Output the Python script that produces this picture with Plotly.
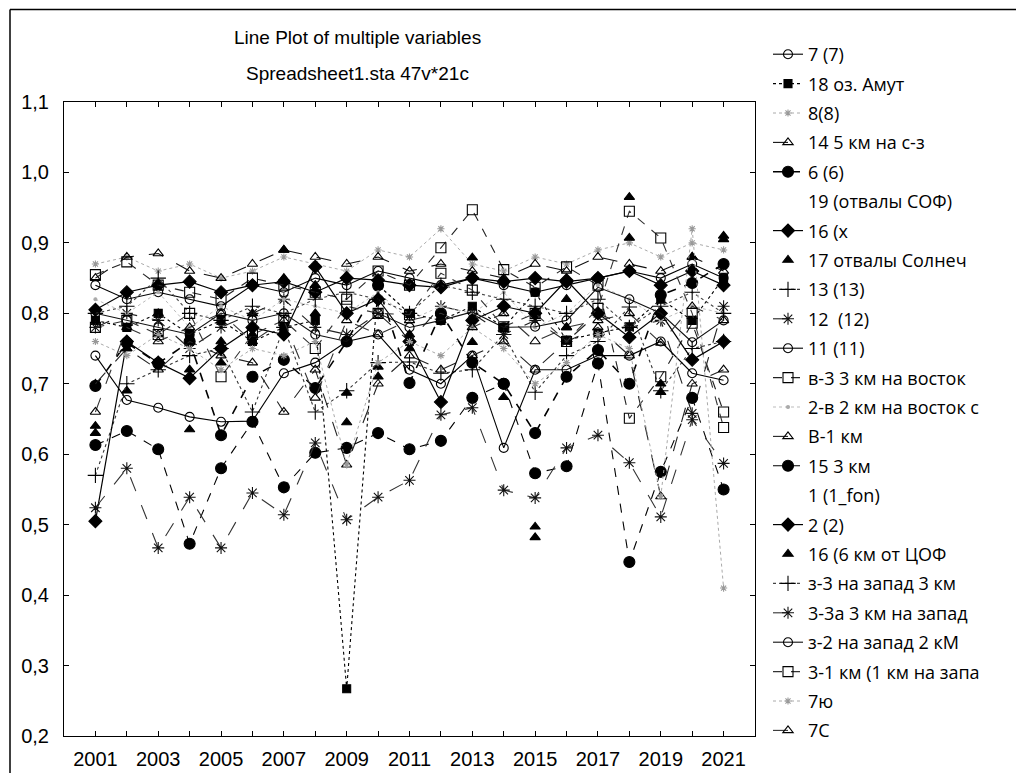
import plotly.graph_objects as go

# ---- data -------------------------------------------------------------
years = list(range(2001, 2022))

y_tick_vals = [0.2, 0.3, 0.4, 0.5, 0.6, 0.7, 0.8, 0.9, 1.0, 1.1]
x_tick_text = [str(y) if (y - 2001) % 2 == 0 else "" for y in years]

s_7 = [0.840, 0.820, 0.830, 0.820, 0.810, 0.840, 0.830, 0.850, 0.840, 0.860, 0.850,
       0.840, 0.850, 0.840, 0.830, 0.840, 0.850, 0.860, 0.850, 0.870, 0.850]
s_18 = [0.790, 0.780, 0.800, 0.770, 0.790, 0.760, 0.780, 0.790, 0.267, 0.840, 0.800,
        0.790, 0.810, 0.780, 0.830, 0.762, 0.772, 0.781, 0.820, 0.790, 0.850]
s_8 = [0.870, 0.880, 0.860, 0.870, 0.850, 0.860, 0.880, 0.870, 0.860, 0.890, 0.880,
       0.920, 0.870, 0.860, 0.880, 0.870, 0.890, 0.900, 0.880, 0.900, 0.890]
s_14 = [0.850, 0.880, 0.885, 0.860, 0.850, 0.870, 0.890, 0.880, 0.870, 0.880, 0.860,
        0.870, 0.860, 0.850, 0.870, 0.860, 0.880, 0.870, 0.860, 0.880, 0.860]
s_6 = [0.697, 0.758, 0.729, 0.760, 0.627, 0.710, 0.734, 0.694, 0.760, 0.840, 0.701,
       0.800, 0.730, 0.700, 0.630, 0.710, 0.748, 0.700, 0.826, 0.843, 0.870]
s_19 = [0.810, 0.800, 0.820, 0.800, 0.790, 0.810, 0.820, 0.800, 0.810, 0.830, 0.810,
        0.820, 0.830, 0.810, 0.820, 0.810, 0.830, 0.840, 0.820, 0.840, 0.830]
s_16x = [0.805, 0.830, 0.840, 0.845, 0.830, 0.840, 0.845, 0.830, 0.850, 0.847, 0.840,
         0.837, 0.850, 0.845, 0.850, 0.845, 0.850, 0.860, 0.840, 0.860, 0.840]
s_17 = [0.640, 0.690, 0.800, 0.635, 0.730, 0.800, 0.890, 0.800, 0.645, 0.724, 0.770,
        0.790, 0.879, 0.681, 0.497, 0.820, 0.850, 0.965, 0.688, 0.880, 0.910]
s_13 = [0.570, 0.700, 0.720, 0.740, 0.750, 0.660, 0.780, 0.660, 0.690, 0.730, 0.731,
        0.715, 0.720, 0.770, 0.688, 0.740, 0.760, 0.809, 0.690, 0.750, 0.760]
s_12 = [0.780, 0.800, 0.790, 0.750, 0.780, 0.800, 0.820, 0.780, 0.770, 0.800, 0.760,
        0.810, 0.800, 0.770, 0.790, 0.760, 0.800, 0.780, 0.790, 0.658, 0.810]
s_11 = [0.740, 0.677, 0.666, 0.653, 0.646, 0.647, 0.715, 0.730, 0.760, 0.770, 0.720,
        0.700, 0.740, 0.609, 0.720, 0.720, 0.740, 0.740, 0.760, 0.715, 0.705]
s_v3 = [0.855, 0.873, 0.840, 0.830, 0.820, 0.850, 0.840, 0.830, 0.820, 0.860, 0.840,
        0.893, 0.947, 0.862, 0.837, 0.866, 0.840, 0.651, 0.710, 0.786, 0.660]
s_2v = [0.820, 0.800, 0.830, 0.780, 0.810, 0.790, 0.820, 0.810, 0.800, 0.830, 0.790,
        0.810, 0.800, 0.830, 0.780, 0.800, 0.840, 0.820, 0.790, 0.810, 0.800]
s_V1 = [0.700, 0.750, 0.720, 0.760, 0.740, 0.730, 0.660, 0.720, 0.585, 0.700, 0.740,
        0.720, 0.740, 0.760, 0.720, 0.760, 0.780, 0.740, 0.540, 0.700, 0.720]
s_15 = [0.613, 0.633, 0.607, 0.473, 0.580, 0.646, 0.553, 0.602, 0.609, 0.630, 0.607,
        0.619, 0.680, 0.700, 0.573, 0.583, 0.729, 0.447, 0.575, 0.680, 0.550]
s_1fon = [0.780, 0.790, 0.800, 0.790, 0.780, 0.800, 0.810, 0.790, 0.800, 0.810, 0.790,
          0.800, 0.810, 0.800, 0.790, 0.800, 0.810, 0.820, 0.800, 0.810, 0.800]
s_2 = [0.505, 0.760, 0.730, 0.708, 0.750, 0.780, 0.770, 0.866, 0.800, 0.820, 0.760,
       0.674, 0.790, 0.810, 0.800, 0.847, 0.800, 0.766, 0.800, 0.734, 0.760]
s_16c = [0.630, 0.750, 0.770, 0.720, 0.760, 0.770, 0.850, 0.840, 0.687, 0.710, 0.750,
         0.800, 0.759, 0.700, 0.482, 0.780, 0.800, 0.907, 0.700, 0.860, 0.905]
s_z3 = [0.800, 0.810, 0.850, 0.800, 0.790, 0.810, 0.800, 0.820, 0.830, 0.820, 0.800,
        0.840, 0.830, 0.820, 0.810, 0.800, 0.820, 0.780, 0.810, 0.830, 0.800]
s_33a = [0.524, 0.580, 0.467, 0.539, 0.467, 0.545, 0.514, 0.616, 0.507, 0.539, 0.563,
         0.656, 0.666, 0.549, 0.538, 0.609, 0.627, 0.588, 0.511, 0.649, 0.587]
s_z2 = [0.800, 0.790, 0.780, 0.770, 0.800, 0.790, 0.800, 0.770, 0.760, 0.800, 0.780,
        0.790, 0.802, 0.780, 0.781, 0.790, 0.837, 0.820, 0.800, 0.759, 0.790]
s_31 = [0.780, 0.790, 0.770, 0.800, 0.710, 0.770, 0.790, 0.750, 0.810, 0.800, 0.798,
        0.857, 0.833, 0.781, 0.800, 0.760, 0.807, 0.945, 0.907, 0.800, 0.638]
s_7yu = [0.760, 0.740, 0.770, 0.750, 0.720, 0.750, 0.740, 0.760, 0.585, 0.730, 0.760,
         0.740, 0.780, 0.750, 0.700, 0.730, 0.770, 0.750, 0.540, 0.920, 0.410]
s_7c = [0.660, 0.780, 0.760, 0.780, 0.800, 0.760, 0.790, 0.680, 0.790, 0.770, 0.790,
        0.800, 0.780, 0.800, 0.760, 0.780, 0.790, 0.800, 0.758, 0.810, 0.790]

series = [
    ("7 (7)", s_7), ("18 оз. Амут", s_18), ("8(8)", s_8), ("14 5 км на с-з", s_14),
    ("6 (6)", s_6), ("19 (отвалы СОФ)", s_19), ("16 (х", s_16x),
    ("17 отвалы Солнеч", s_17), ("13 (13)", s_13), ("12  (12)", s_12),
    ("11 (11)", s_11), ("в-3 3 км на восток", s_v3), ("2-в 2 км на восток с", s_2v),
    ("В-1 км", s_V1), ("15 3 км", s_15), ("1 (1_fon)", s_1fon), ("2 (2)", s_2),
    ("16 (6 км от ЦОФ", s_16c), ("з-3 на запад 3 км", s_z3),
    ("3-3а 3 км на запад", s_33a), ("з-2 на запад 2 кМ", s_z2),
    ("3-1 км (1 км на запа", s_31), ("7ю", s_7yu), ("7С", s_7c),
]

# ---- styles: (mode, line colour, dash, width, symbol, marker size, marker colour)
NONE = "rgba(0,0,0,0)"
styles = [
    ("lines+markers", "#000", "solid", 1.1, "circle-open", 9, "#000"),
    ("lines+markers", "#000", "3px,3px", 1.1, "square", 8, "#000"),
    ("lines+markers", "#aaa", "dot", 1.0, "asterisk-open", 6, "#999"),
    ("lines+markers", "#111", "longdash", 1.1, "triangle-up-open", 9, "#000"),
    ("lines+markers", "#000", "dash", 1.6, "circle", 11, "#000"),
    ("lines", NONE, "solid", 1.0, "circle", 1, NONE),
    ("lines+markers", "#000", "solid", 1.2, "diamond", 10, "#000"),
    ("markers", "#000", "solid", 1.0, "triangle-up", 9, "#000"),
    ("lines+markers", "#333", "dot", 1.1, "cross-thin-open", 11, "#000"),
    ("lines+markers", "#222", "longdash", 1.1, "asterisk-open", 10, "#111"),
    ("lines+markers", "#000", "solid", 1.1, "circle-open", 9, "#000"),
    ("lines+markers", "#222", "dash", 1.1, "square-open", 10, "#000"),
    ("lines+markers", "#bbb", "dot", 1.0, "circle", 3, "#aaa"),
    ("lines+markers", "#222", "longdash", 1.1, "triangle-up-open", 9, "#000"),
    ("lines+markers", "#000", "dash", 1.1, "circle", 11, "#000"),
    ("lines", NONE, "solid", 1.0, "circle", 1, NONE),
    ("lines+markers", "#000", "solid", 1.2, "diamond", 10, "#000"),
    ("markers", "#000", "solid", 1.0, "triangle-up", 9, "#000"),
    ("lines+markers", "#444", "dot", 1.1, "cross-thin-open", 11, "#000"),
    ("lines+markers", "#333", "longdash", 1.1, "asterisk-open", 10, "#111"),
    ("lines+markers", "#111", "solid", 1.1, "circle-open", 9, "#000"),
    ("lines+markers", "#333", "dash", 1.1, "square-open", 10, "#000"),
    ("lines+markers", "#aaa", "dot", 1.0, "asterisk-open", 6, "#999"),
    ("lines+markers", "#333", "longdash", 1.1, "triangle-up-open", 9, "#000"),
]

fig = go.Figure()
for i, ((name, vals), st) in enumerate(zip(series, styles)):
    mode, lc, dash, lw, sym, ms, mc = st
    fig.add_trace(go.Scatter(
        x=years, y=vals, name=name, mode=mode, legendgroup=f"g{i}",
        line=dict(color=lc, dash=dash, width=lw),
        marker=dict(symbol=sym, size=ms, color=mc,
                    line=dict(color=mc, width=1.1)),
    ))

# ---- layout -------------------------------------------------------------
W, H = 1016, 773
L, R, T, B = 64, 261, 102, 37
pw, ph = W - L - R, H - T - B


def px_x(p):
    return (p - L) / pw


def px_y(p):
    return 1 + (T - p) / ph


axis_font = dict(family="Liberation Sans, Arial, sans-serif", size=20, color="#000")

fig.update_layout(
    width=W, height=H,
    margin=dict(l=L, r=R, t=T, b=B),
    paper_bgcolor="white", plot_bgcolor="white",
    separators=", ",
    showlegend=True,
    legend=dict(
        x=px_x(768), y=px_y(36), xanchor="left", yanchor="top",
        font=dict(family="Open Sans, sans-serif", size=18, color="#000"),
        tracegroupgap=3, bgcolor="rgba(0,0,0,0)", itemwidth=30,
        maxheight=736,
    ),
    xaxis=dict(
        range=[2000, 2022], tickvals=years, ticktext=x_tick_text,
        ticks="inside", ticklen=5, tickcolor="#000", showline=True,
        linecolor="#000", linewidth=1, mirror="ticks", showgrid=False,
        zeroline=False, tickfont=axis_font, ticklabelstandoff=5,
        automargin=False,
    ),
    yaxis=dict(
        range=[0.2, 1.1], tickvals=y_tick_vals, tickformat=".1f",
        ticks="inside", ticklen=5, tickcolor="#000", showline=True,
        linecolor="#000", linewidth=1, mirror="ticks", showgrid=False,
        zeroline=False, tickfont=axis_font, ticklabelstandoff=10,
        automargin=False,
    ),
    annotations=[
        dict(text="Line Plot of multiple variables", x=px_x(357), y=px_y(38),
             xref="paper", yref="paper", showarrow=False, xanchor="center",
             yanchor="middle", font=dict(family="Liberation Sans, Arial", size=19, color="#000")),
        dict(text="Spreadsheet1.sta 47v*21c", x=px_x(357), y=px_y(73),
             xref="paper", yref="paper", showarrow=False, xanchor="center",
             yanchor="middle", font=dict(family="Liberation Sans, Arial", size=19, color="#000")),
    ],
    shapes=[
        dict(type="line", xref="paper", yref="paper", x0=px_x(10), x1=px_x(1016),
             y0=px_y(9.5), y1=px_y(9.5), line=dict(color="#000", width=1.5)),
        dict(type="line", xref="paper", yref="paper", x0=px_x(10), x1=px_x(10),
             y0=px_y(9.5), y1=px_y(773), line=dict(color="#000", width=1.5)),
    ],
)

fig.write_html("out.html")
